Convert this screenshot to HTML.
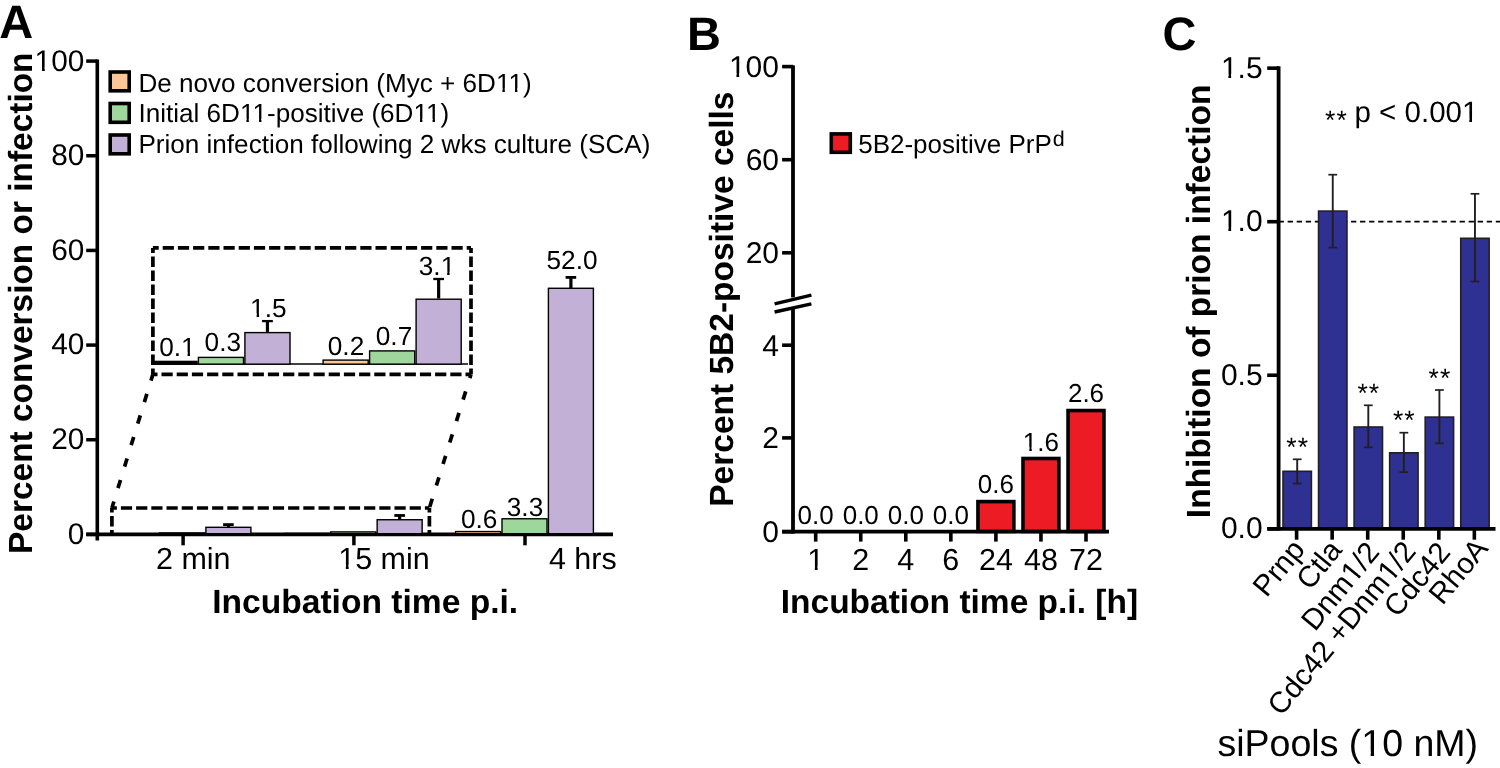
<!DOCTYPE html>
<html><head><meta charset="utf-8"><style>
html,body{margin:0;padding:0;background:#fff;}
svg{display:block;will-change:transform;text-rendering:geometricPrecision;}
</style></head><body>
<svg width="1500" height="768" viewBox="0 0 1500 768" font-family="'Liberation Sans', sans-serif" fill="#000">
<g stroke="none">
</g>
<g>
<text x="-0.80" y="38.30" font-size="47" text-anchor="start" font-weight="bold" >A</text>
<text x="0.00" y="0.00" font-size="33.44" text-anchor="middle" font-weight="bold" transform="translate(32.3,303.2) rotate(-90)">Percent conversion or infection</text>
<line x1="97.30" y1="59.50" x2="97.30" y2="540.60" stroke="#000" stroke-width="3.6" />
<line x1="86.20" y1="534.40" x2="97.30" y2="534.40" stroke="#000" stroke-width="3.5" />
<text x="84.30" y="543.80" font-size="29.8" text-anchor="end" >0</text>
<line x1="86.20" y1="439.74" x2="97.30" y2="439.74" stroke="#000" stroke-width="3.5" />
<text x="84.30" y="449.14" font-size="29.8" text-anchor="end" >20</text>
<line x1="86.20" y1="345.08" x2="97.30" y2="345.08" stroke="#000" stroke-width="3.5" />
<text x="84.30" y="354.48" font-size="29.8" text-anchor="end" >40</text>
<line x1="86.20" y1="250.42" x2="97.30" y2="250.42" stroke="#000" stroke-width="3.5" />
<text x="84.30" y="259.82" font-size="29.8" text-anchor="end" >60</text>
<line x1="86.20" y1="155.76" x2="97.30" y2="155.76" stroke="#000" stroke-width="3.5" />
<text x="84.30" y="165.16" font-size="29.8" text-anchor="end" >80</text>
<line x1="86.20" y1="61.10" x2="97.30" y2="61.10" stroke="#000" stroke-width="3.5" />
<text x="84.30" y="70.50" font-size="29.8" text-anchor="end" >100</text>
<line x1="86.20" y1="534.40" x2="613.00" y2="534.40" stroke="#000" stroke-width="3.6" />
<line x1="183.10" y1="534.40" x2="183.10" y2="545.30" stroke="#000" stroke-width="3.5" />
<line x1="353.90" y1="534.40" x2="353.90" y2="545.30" stroke="#000" stroke-width="3.5" />
<line x1="525.00" y1="534.40" x2="525.00" y2="545.30" stroke="#000" stroke-width="3.5" />
<text x="193.30" y="568.60" font-size="30.5" text-anchor="middle" >2 min</text>
<text x="384.00" y="568.60" font-size="30.5" text-anchor="middle" >15 min</text>
<text x="582.80" y="568.60" font-size="30.5" text-anchor="middle" >4 hrs</text>
<text x="365.20" y="612.90" font-size="33.6" text-anchor="middle" font-weight="bold" >Incubation time p.i.</text>
<rect x="110.20" y="72.00" width="19.00" height="18.80" fill="#FBC795" stroke="#000" stroke-width="3.6"/>
<text x="138.40" y="91.60" font-size="26.1" text-anchor="start" >De novo conversion (Myc + 6D11)</text>
<rect x="110.20" y="103.50" width="19.00" height="18.80" fill="#9FD69B" stroke="#000" stroke-width="3.6"/>
<text x="138.40" y="122.40" font-size="26.1" text-anchor="start" >Initial 6D11-positive (6D11)</text>
<rect x="110.20" y="135.00" width="19.00" height="18.80" fill="#C2B0D6" stroke="#000" stroke-width="3.6"/>
<text x="138.40" y="153.20" font-size="26.1" text-anchor="start" >Prion infection following 2 wks culture (SCA)</text>
<rect x="113.10" y="533.93" width="45.00" height="0.00" fill="#FBC795" stroke="#000" stroke-width="1.4"/>
<rect x="159.50" y="532.98" width="45.00" height="0.72" fill="#9FD69B" stroke="#000" stroke-width="1.4"/>
<rect x="205.90" y="527.30" width="45.00" height="6.40" fill="#C2B0D6" stroke="#000" stroke-width="1.4"/>
<line x1="228.40" y1="527.30" x2="228.40" y2="524.60" stroke="#000" stroke-width="3.2" />
<line x1="223.10" y1="524.60" x2="233.70" y2="524.60" stroke="#000" stroke-width="2.8" />
<rect x="284.35" y="533.45" width="45.00" height="0.25" fill="#FBC795" stroke="#000" stroke-width="1.4"/>
<rect x="330.75" y="531.90" width="45.00" height="1.80" fill="#9FD69B" stroke="#000" stroke-width="1.4"/>
<rect x="377.15" y="519.73" width="45.00" height="13.97" fill="#C2B0D6" stroke="#000" stroke-width="1.4"/>
<line x1="399.65" y1="519.73" x2="399.65" y2="515.47" stroke="#000" stroke-width="3.2" />
<line x1="394.35" y1="515.47" x2="404.95" y2="515.47" stroke="#000" stroke-width="2.8" />
<rect x="455.60" y="531.56" width="45.00" height="2.14" fill="#FBC795" stroke="#000" stroke-width="1.4"/>
<rect x="502.00" y="518.78" width="45.00" height="14.92" fill="#9FD69B" stroke="#000" stroke-width="1.4"/>
<rect x="548.40" y="288.28" width="45.00" height="245.42" fill="#C2B0D6" stroke="#000" stroke-width="1.4"/>
<line x1="570.90" y1="288.28" x2="570.90" y2="277.40" stroke="#000" stroke-width="3.2" />
<line x1="565.60" y1="277.40" x2="576.20" y2="277.40" stroke="#000" stroke-width="2.8" />
<text x="479.20" y="528.00" font-size="26.2" text-anchor="middle" >0.6</text>
<text x="525.00" y="516.00" font-size="26.2" text-anchor="middle" >3.3</text>
<text x="572.00" y="269.30" font-size="26.2" text-anchor="middle" >52.0</text>
<line x1="152.9" y1="364.1" x2="468" y2="364.1" stroke="#000" stroke-width="1.5"/>
<rect x="151.20" y="360.7" width="46.50" height="4.2" fill="#000"/>
<rect x="198.40" y="357.40" width="45.10" height="6.75" fill="#9FD69B" stroke="#000" stroke-width="1.4"/>
<rect x="244.90" y="332.60" width="45.10" height="31.55" fill="#C2B0D6" stroke="#000" stroke-width="1.4"/>
<line x1="267.45" y1="331.90" x2="267.45" y2="321.10" stroke="#000" stroke-width="3.2" />
<line x1="262.05" y1="321.10" x2="272.85" y2="321.10" stroke="#000" stroke-width="2.3" />
<rect x="323.10" y="360.10" width="45.10" height="4.05" fill="#FBC795" stroke="#000" stroke-width="1.4"/>
<rect x="369.60" y="350.90" width="45.10" height="13.25" fill="#9FD69B" stroke="#000" stroke-width="1.4"/>
<rect x="416.10" y="299.20" width="45.10" height="64.95" fill="#C2B0D6" stroke="#000" stroke-width="1.4"/>
<line x1="438.65" y1="298.50" x2="438.65" y2="279.00" stroke="#000" stroke-width="3.2" />
<line x1="433.25" y1="279.00" x2="444.05" y2="279.00" stroke="#000" stroke-width="2.3" />
<text x="177.40" y="355.80" font-size="26.2" text-anchor="middle" >0.1</text>
<text x="222.80" y="351.00" font-size="26.2" text-anchor="middle" >0.3</text>
<text x="268.30" y="316.90" font-size="26.2" text-anchor="middle" >1.5</text>
<text x="346.00" y="354.70" font-size="26.2" text-anchor="middle" >0.2</text>
<text x="394.00" y="344.50" font-size="26.2" text-anchor="middle" >0.7</text>
<text x="437.00" y="275.00" font-size="26.2" text-anchor="middle" >3.1</text>
<line x1="152.9" y1="247.9" x2="471" y2="247.9" stroke="#000" stroke-width="3.7" stroke-dasharray="11.2 4" stroke-dashoffset="5.4"/>
<line x1="152.9" y1="247.9" x2="152.9" y2="374.3" stroke="#000" stroke-width="3.7" stroke-dasharray="10.5 3.5" stroke-dashoffset="5.4"/>
<line x1="471" y1="247.9" x2="471" y2="374.3" stroke="#000" stroke-width="3.7" stroke-dasharray="10.5 3.5" stroke-dashoffset="5.4"/>
<line x1="471" y1="374.3" x2="152.9" y2="374.3" stroke="#000" stroke-width="3.7" stroke-dasharray="11.2 4" stroke-dashoffset="5.7"/>
<line x1="111.9" y1="508" x2="429.4" y2="508" stroke="#000" stroke-width="3.7" stroke-dasharray="11.2 4" stroke-dashoffset="6.2"/>
<line x1="111.9" y1="508" x2="111.9" y2="534.4" stroke="#000" stroke-width="3.7" stroke-dasharray="10.5 3.5" stroke-dashoffset="6"/>
<line x1="429.4" y1="508" x2="429.4" y2="534.4" stroke="#000" stroke-width="3.7" stroke-dasharray="10.5 3.5" stroke-dashoffset="6"/>
<line x1="152.9" y1="374.3" x2="111.9" y2="508" stroke="#000" stroke-width="3.7" stroke-dasharray="8.6 13.9" stroke-dashoffset="2"/>
<line x1="471" y1="374.3" x2="429.4" y2="508" stroke="#000" stroke-width="3.7" stroke-dasharray="8.6 13.9" stroke-dashoffset="4.6"/>
<text x="687.00" y="49.60" font-size="47" text-anchor="start" font-weight="bold" >B</text>
<text x="0.00" y="0.00" font-size="33.5" text-anchor="middle" font-weight="bold" transform="translate(732.7,299.15) rotate(-90)">Percent 5B2-positive cells</text>
<line x1="793.00" y1="65.35" x2="793.00" y2="297.40" stroke="#000" stroke-width="3.8" />
<line x1="793.00" y1="307.40" x2="793.00" y2="533.55" stroke="#000" stroke-width="3.8" />
<line x1="782.10" y1="66.60" x2="793.00" y2="66.60" stroke="#000" stroke-width="3.6" />
<text x="779.00" y="77.00" font-size="30" text-anchor="end" >100</text>
<line x1="782.10" y1="159.70" x2="793.00" y2="159.70" stroke="#000" stroke-width="3.6" />
<text x="779.00" y="170.10" font-size="30" text-anchor="end" >60</text>
<line x1="782.10" y1="252.80" x2="793.00" y2="252.80" stroke="#000" stroke-width="3.6" />
<text x="779.00" y="263.20" font-size="30" text-anchor="end" >20</text>
<line x1="782.10" y1="531.70" x2="793.00" y2="531.70" stroke="#000" stroke-width="3.6" />
<text x="779.00" y="542.10" font-size="30" text-anchor="end" >0</text>
<line x1="782.10" y1="437.90" x2="793.00" y2="437.90" stroke="#000" stroke-width="3.6" />
<text x="779.00" y="448.30" font-size="30" text-anchor="end" >2</text>
<line x1="782.10" y1="345.20" x2="793.00" y2="345.20" stroke="#000" stroke-width="3.6" />
<text x="779.00" y="355.60" font-size="30" text-anchor="end" >4</text>
<line x1="774.60" y1="303.80" x2="811.40" y2="295.20" stroke="#000" stroke-width="3.4" />
<line x1="774.60" y1="312.00" x2="811.40" y2="303.80" stroke="#000" stroke-width="3.4" />
<line x1="782.20" y1="531.70" x2="1109.00" y2="531.70" stroke="#000" stroke-width="3.7" />
<line x1="815.70" y1="531.70" x2="815.70" y2="541.60" stroke="#000" stroke-width="3.6" />
<text x="815.70" y="570.00" font-size="30.5" text-anchor="middle" >1</text>
<line x1="860.75" y1="531.70" x2="860.75" y2="541.60" stroke="#000" stroke-width="3.6" />
<text x="860.75" y="570.00" font-size="30.5" text-anchor="middle" >2</text>
<line x1="905.80" y1="531.70" x2="905.80" y2="541.60" stroke="#000" stroke-width="3.6" />
<text x="905.80" y="570.00" font-size="30.5" text-anchor="middle" >4</text>
<line x1="950.85" y1="531.70" x2="950.85" y2="541.60" stroke="#000" stroke-width="3.6" />
<text x="950.85" y="570.00" font-size="30.5" text-anchor="middle" >6</text>
<line x1="995.90" y1="531.70" x2="995.90" y2="541.60" stroke="#000" stroke-width="3.6" />
<text x="995.90" y="570.00" font-size="30.5" text-anchor="middle" >24</text>
<line x1="1040.95" y1="531.70" x2="1040.95" y2="541.60" stroke="#000" stroke-width="3.6" />
<text x="1040.95" y="570.00" font-size="30.5" text-anchor="middle" >48</text>
<line x1="1086.00" y1="531.70" x2="1086.00" y2="541.60" stroke="#000" stroke-width="3.6" />
<text x="1086.00" y="570.00" font-size="30.5" text-anchor="middle" >72</text>
<text x="815.70" y="523.80" font-size="26" text-anchor="middle" >0.0</text>
<text x="860.75" y="523.80" font-size="26" text-anchor="middle" >0.0</text>
<text x="905.80" y="523.80" font-size="26" text-anchor="middle" >0.0</text>
<text x="950.85" y="523.80" font-size="26" text-anchor="middle" >0.0</text>
<rect x="977.95" y="501.60" width="35.90" height="29.80" fill="#ED1C24" stroke="#000" stroke-width="3.6"/>
<text x="995.90" y="493.30" font-size="26" text-anchor="middle" >0.6</text>
<rect x="1023.00" y="458.50" width="35.90" height="72.90" fill="#ED1C24" stroke="#000" stroke-width="3.6"/>
<text x="1040.95" y="450.60" font-size="26" text-anchor="middle" >1.6</text>
<rect x="1068.05" y="410.55" width="35.90" height="120.85" fill="#ED1C24" stroke="#000" stroke-width="3.6"/>
<text x="1086.00" y="402.30" font-size="26" text-anchor="middle" >2.6</text>
<text x="959.40" y="613.00" font-size="33.5" text-anchor="middle" font-weight="bold" >Incubation time p.i. [h]</text>
<rect x="831.30" y="133.90" width="19.00" height="18.40" fill="#ED1C24" stroke="#000" stroke-width="3.6"/>
<text x="858.20" y="152.90" font-size="26" text-anchor="start" >5B2-positive PrP<tspan font-size="21.5" dy="-7.3" dx="1">d</tspan></text>
<text x="1162.50" y="50.10" font-size="47" text-anchor="start" font-weight="bold" >C</text>
<text x="0.00" y="0.00" font-size="33.5" text-anchor="middle" font-weight="bold" transform="translate(1210,301.35) rotate(-90)">Inhibition of prion infection</text>
<line x1="1278.60" y1="66.30" x2="1278.60" y2="530.60" stroke="#000" stroke-width="3.8" />
<line x1="1267.20" y1="528.80" x2="1278.60" y2="528.80" stroke="#000" stroke-width="3.6" />
<text x="1262.60" y="537.50" font-size="30" text-anchor="end" >0.0</text>
<line x1="1267.20" y1="375.25" x2="1278.60" y2="375.25" stroke="#000" stroke-width="3.6" />
<text x="1262.60" y="384.85" font-size="30" text-anchor="end" >0.5</text>
<line x1="1267.20" y1="221.70" x2="1278.60" y2="221.70" stroke="#000" stroke-width="3.6" />
<text x="1262.60" y="231.30" font-size="30" text-anchor="end" >1.0</text>
<line x1="1267.20" y1="68.15" x2="1278.60" y2="68.15" stroke="#000" stroke-width="3.6" />
<text x="1262.60" y="77.75" font-size="30" text-anchor="end" >1.5</text>
<line x1="1278.6" y1="221.6" x2="1500" y2="221.6" stroke="#000" stroke-width="1.8" stroke-dasharray="5.3 3.75"/>
<rect x="1283.00" y="471.30" width="28.40" height="57.70" fill="#2E3192" stroke="#231F20" stroke-width="1.6"/>
<rect x="1318.55" y="211.10" width="28.40" height="317.90" fill="#2E3192" stroke="#231F20" stroke-width="1.6"/>
<rect x="1354.10" y="427.00" width="28.40" height="102.00" fill="#2E3192" stroke="#231F20" stroke-width="1.6"/>
<rect x="1389.65" y="452.80" width="28.40" height="76.20" fill="#2E3192" stroke="#231F20" stroke-width="1.6"/>
<rect x="1425.20" y="417.10" width="28.40" height="111.90" fill="#2E3192" stroke="#231F20" stroke-width="1.6"/>
<rect x="1460.75" y="238.30" width="28.40" height="290.70" fill="#2E3192" stroke="#231F20" stroke-width="1.6"/>
<line x1="1297.20" y1="459.30" x2="1297.20" y2="483.50" stroke="#231F20" stroke-width="1.9"/>
<line x1="1292.80" y1="459.30" x2="1301.60" y2="459.30" stroke="#231F20" stroke-width="1.7"/>
<line x1="1292.80" y1="483.50" x2="1301.60" y2="483.50" stroke="#231F20" stroke-width="1.7"/>
<line x1="1332.75" y1="174.70" x2="1332.75" y2="247.60" stroke="#231F20" stroke-width="1.9"/>
<line x1="1328.35" y1="174.70" x2="1337.15" y2="174.70" stroke="#231F20" stroke-width="1.7"/>
<line x1="1328.35" y1="247.60" x2="1337.15" y2="247.60" stroke="#231F20" stroke-width="1.7"/>
<line x1="1368.30" y1="405.30" x2="1368.30" y2="447.30" stroke="#231F20" stroke-width="1.9"/>
<line x1="1363.90" y1="405.30" x2="1372.70" y2="405.30" stroke="#231F20" stroke-width="1.7"/>
<line x1="1363.90" y1="447.30" x2="1372.70" y2="447.30" stroke="#231F20" stroke-width="1.7"/>
<line x1="1403.85" y1="432.70" x2="1403.85" y2="472.10" stroke="#231F20" stroke-width="1.9"/>
<line x1="1399.45" y1="432.70" x2="1408.25" y2="432.70" stroke="#231F20" stroke-width="1.7"/>
<line x1="1399.45" y1="472.10" x2="1408.25" y2="472.10" stroke="#231F20" stroke-width="1.7"/>
<line x1="1439.40" y1="390.00" x2="1439.40" y2="443.30" stroke="#231F20" stroke-width="1.9"/>
<line x1="1435.00" y1="390.00" x2="1443.80" y2="390.00" stroke="#231F20" stroke-width="1.7"/>
<line x1="1435.00" y1="443.30" x2="1443.80" y2="443.30" stroke="#231F20" stroke-width="1.7"/>
<line x1="1474.95" y1="193.80" x2="1474.95" y2="281.50" stroke="#231F20" stroke-width="1.9"/>
<line x1="1470.55" y1="193.80" x2="1479.35" y2="193.80" stroke="#231F20" stroke-width="1.7"/>
<line x1="1470.55" y1="281.50" x2="1479.35" y2="281.50" stroke="#231F20" stroke-width="1.7"/>
<line x1="1267.40" y1="528.80" x2="1495.50" y2="528.80" stroke="#000" stroke-width="3.7" />
<line x1="1296.60" y1="528.80" x2="1296.60" y2="539.70" stroke="#000" stroke-width="3.6" />
<text x="0.00" y="0.00" font-size="29.5" text-anchor="end" transform="translate(1306.10,550.20) rotate(-50.5)">Prnp</text>
<line x1="1332.15" y1="528.80" x2="1332.15" y2="539.70" stroke="#000" stroke-width="3.6" />
<text x="0.00" y="0.00" font-size="29.5" text-anchor="end" transform="translate(1343.25,550.70) rotate(-50.5)">Ctla</text>
<line x1="1367.70" y1="528.80" x2="1367.70" y2="539.70" stroke="#000" stroke-width="3.6" />
<text x="0.00" y="0.00" font-size="29.5" text-anchor="end" transform="translate(1380.60,552.60) rotate(-50.5)">Dnm1/2</text>
<line x1="1403.25" y1="528.80" x2="1403.25" y2="539.70" stroke="#000" stroke-width="3.6" />
<text x="0.00" y="0.00" font-size="29.5" text-anchor="end" transform="translate(1417.25,551.90) rotate(-50.5)">Cdc42 +Dnm1/2</text>
<line x1="1438.80" y1="528.80" x2="1438.80" y2="539.70" stroke="#000" stroke-width="3.6" />
<text x="0.00" y="0.00" font-size="29.5" text-anchor="end" transform="translate(1451.80,552.80) rotate(-50.5)">Cdc42</text>
<line x1="1474.35" y1="528.80" x2="1474.35" y2="539.70" stroke="#000" stroke-width="3.6" />
<text x="0.00" y="0.00" font-size="29.5" text-anchor="end" transform="translate(1489.35,549.00) rotate(-50.5)">RhoA</text>
<text x="1286.30" y="456.00" font-size="26.5" text-anchor="start" letter-spacing="1.1">**</text>
<text x="1357.40" y="402.00" font-size="26.5" text-anchor="start" letter-spacing="1.1">**</text>
<text x="1392.95" y="429.40" font-size="26.5" text-anchor="start" letter-spacing="1.1">**</text>
<text x="1428.50" y="386.70" font-size="26.5" text-anchor="start" letter-spacing="1.1">**</text>
<text x="1324.95" y="128.50" font-size="26.5" text-anchor="start" letter-spacing="1.3">**</text>
<text x="1354.50" y="122.20" font-size="29.5" text-anchor="start" >p &lt; 0.001</text>
<text x="1217.50" y="755.60" font-size="37.5" text-anchor="start" >siPools (10 nM)</text>
<rect x="35.95" y="66.77" width="6.08" height="4.53" fill="#fff"/>
<rect x="44.76" y="66.77" width="5.73" height="4.53" fill="#fff"/>
<rect x="339.64" y="564.82" width="6.20" height="4.58" fill="#fff"/>
<rect x="348.64" y="564.82" width="5.85" height="4.58" fill="#fff"/>
<rect x="496.97" y="88.15" width="5.43" height="4.25" fill="#fff"/>
<rect x="504.80" y="88.15" width="5.11" height="4.25" fill="#fff"/>
<rect x="509.55" y="88.15" width="5.43" height="4.25" fill="#fff"/>
<rect x="517.38" y="88.15" width="5.11" height="4.25" fill="#fff"/>
<rect x="241.00" y="118.95" width="5.43" height="4.25" fill="#fff"/>
<rect x="248.83" y="118.95" width="5.11" height="4.25" fill="#fff"/>
<rect x="253.58" y="118.95" width="5.43" height="4.25" fill="#fff"/>
<rect x="261.41" y="118.95" width="5.11" height="4.25" fill="#fff"/>
<rect x="414.55" y="118.95" width="5.43" height="4.25" fill="#fff"/>
<rect x="422.38" y="118.95" width="5.11" height="4.25" fill="#fff"/>
<rect x="427.12" y="118.95" width="5.43" height="4.25" fill="#fff"/>
<rect x="434.96" y="118.95" width="5.11" height="4.25" fill="#fff"/>
<rect x="182.12" y="352.34" width="5.45" height="4.26" fill="#fff"/>
<rect x="189.98" y="352.34" width="5.13" height="4.26" fill="#fff"/>
<rect x="251.19" y="313.44" width="5.45" height="4.26" fill="#fff"/>
<rect x="259.05" y="313.44" width="5.13" height="4.26" fill="#fff"/>
<rect x="441.72" y="271.54" width="5.45" height="4.26" fill="#fff"/>
<rect x="449.58" y="271.54" width="5.13" height="4.26" fill="#fff"/>
<rect x="730.32" y="73.26" width="6.12" height="4.54" fill="#fff"/>
<rect x="739.18" y="73.26" width="5.77" height="4.54" fill="#fff"/>
<rect x="808.63" y="566.22" width="6.20" height="4.58" fill="#fff"/>
<rect x="817.63" y="566.22" width="5.85" height="4.58" fill="#fff"/>
<rect x="1023.95" y="447.16" width="5.41" height="4.24" fill="#fff"/>
<rect x="1031.76" y="447.16" width="5.10" height="4.24" fill="#fff"/>
<rect x="1222.26" y="227.56" width="6.12" height="4.54" fill="#fff"/>
<rect x="1231.13" y="227.56" width="5.77" height="4.54" fill="#fff"/>
<rect x="1222.26" y="74.01" width="6.12" height="4.54" fill="#fff"/>
<rect x="1231.13" y="74.01" width="5.77" height="4.54" fill="#fff"/>
<rect x="-39.67" y="-3.70" width="6.03" height="4.50" fill="#fff" transform="translate(1380.60,552.60) rotate(-50.5)"/>
<rect x="-30.94" y="-3.70" width="5.68" height="4.50" fill="#fff" transform="translate(1380.60,552.60) rotate(-50.5)"/>
<rect x="-39.69" y="-3.70" width="6.03" height="4.50" fill="#fff" transform="translate(1417.25,551.90) rotate(-50.5)"/>
<rect x="-30.96" y="-3.70" width="5.68" height="4.50" fill="#fff" transform="translate(1417.25,551.90) rotate(-50.5)"/>
<rect x="1463.28" y="118.50" width="6.03" height="4.50" fill="#fff"/>
<rect x="1472.01" y="118.50" width="5.68" height="4.50" fill="#fff"/>
<rect x="1363.23" y="751.30" width="7.43" height="5.10" fill="#fff"/>
<rect x="1374.07" y="751.30" width="7.02" height="5.10" fill="#fff"/>
</g>
</svg>
</body></html>
